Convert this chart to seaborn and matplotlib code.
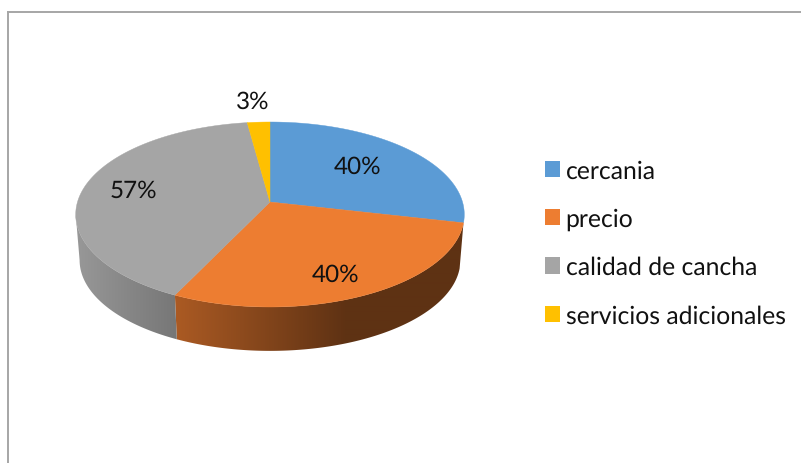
import numpy as np
import matplotlib
matplotlib.use('Agg')
import matplotlib.pyplot as plt
from matplotlib.colors import to_rgb
from matplotlib.patches import Patch, Polygon
import seaborn as sns

# Data
categories = ['cercania', 'precio', 'calidad de cancha', 'servicios adicionales']
values = [40, 40, 57, 3]
colors = ['#5B9BD5', '#ED7D31', '#A5A5A5', '#FFC000']

# Geometry of the pie, in image pixels
cx, cy = 270, 203
rx, ry = 192.5, 90.8
persp = 0.135
depth = 46
base_scale = 0.98


def project(theta, lift=0.0, scale=1.0):
    # theta is clockwise from twelve o'clock
    u, v = np.sin(theta), np.cos(theta)
    w = 1 + persp * v
    return cx + scale * rx * u / w, cy + lift - scale * ry * v / w


def side_shade(x):
    # the side of the cake gets darker towards the right
    return np.interp(x, [76, 176, 345, 470], [0.92, 0.72, 0.40, 0.40])


sns.set_theme(style='white')
plt.rcParams['font.family'] = ['Lato', 'DejaVu Sans']
plt.rcParams['text.hinting'] = 'none'

fig = plt.figure(figsize=(8.01, 4.64), dpi=100)
ax = fig.add_axes([8 / 801, 0, 793 / 801, 451 / 464])
ax.set_xticks([])
ax.set_yticks([])
for name in ['right', 'bottom']:
    ax.spines[name].set_visible(False)
for name in ['left', 'top']:
    ax.spines[name].set_color('#a6a6a6')
    ax.spines[name].set_linewidth(1.4)

edges = np.cumsum([0] + values) / sum(values) * 2 * np.pi

# only the front of the wall shows, between the two silhouette angles
front_a = np.arccos(-persp)
front_b = 2 * np.pi - front_a

# side wall: a horizontal gradient clipped to the outline of each slice
grad_x = np.arange(60, 480)
for start, stop, color in zip(edges[:-1], edges[1:], colors):
    lo, hi = max(start, front_a), min(stop, front_b)
    if hi - lo < 0.1:
        continue
    t = np.linspace(lo, hi, 200)
    xt, yt = project(t)
    xb, yb = project(t, depth, base_scale)
    outline = Polygon(np.c_[np.r_[xt, xb[::-1]], np.r_[yt, yb[::-1]]], closed=True,
                      transform=ax.transData, facecolor='none', edgecolor='none')
    ax.add_patch(outline)
    rgb = np.array(to_rgb(color))[None, None, :] * side_shade(grad_x)[None, :, None]
    img = ax.imshow(np.clip(rgb, 0, 1), extent=(60, 480, 400, 100), aspect='auto',
                    interpolation='bilinear')
    img.set_clip_path(outline)

# top of the pie
for start, stop, color in zip(edges[:-1], edges[1:], colors):
    t = np.linspace(start, stop, 200)
    x, y = project(t)
    ax.fill(np.r_[cx, x], np.r_[cy, y], color=color, lw=0.3)

ax.set_xlim(8, 801)
ax.set_ylim(464, 13)

# percentage labels
label_xy = [(358, 167), (336, 275), (133, 191), (253, 102)]
for val, (lx, ly) in zip(values, label_xy):
    ax.text(lx, ly, f'{val}%', ha='center', va='center', fontsize=17.5, color='#111111')

handles = [Patch(facecolor=c, edgecolor='none') for c in colors]
ax.legend(handles, categories, loc='upper left', bbox_to_anchor=(545, 160), bbox_transform=ax.transData,
          frameon=False, fontsize=17.8, borderpad=0, borderaxespad=0, handlelength=0.62, handleheight=0.62,
          handletextpad=0.21, labelspacing=1.04, labelcolor='#111111')

fig.savefig('out.png', dpi=100)
